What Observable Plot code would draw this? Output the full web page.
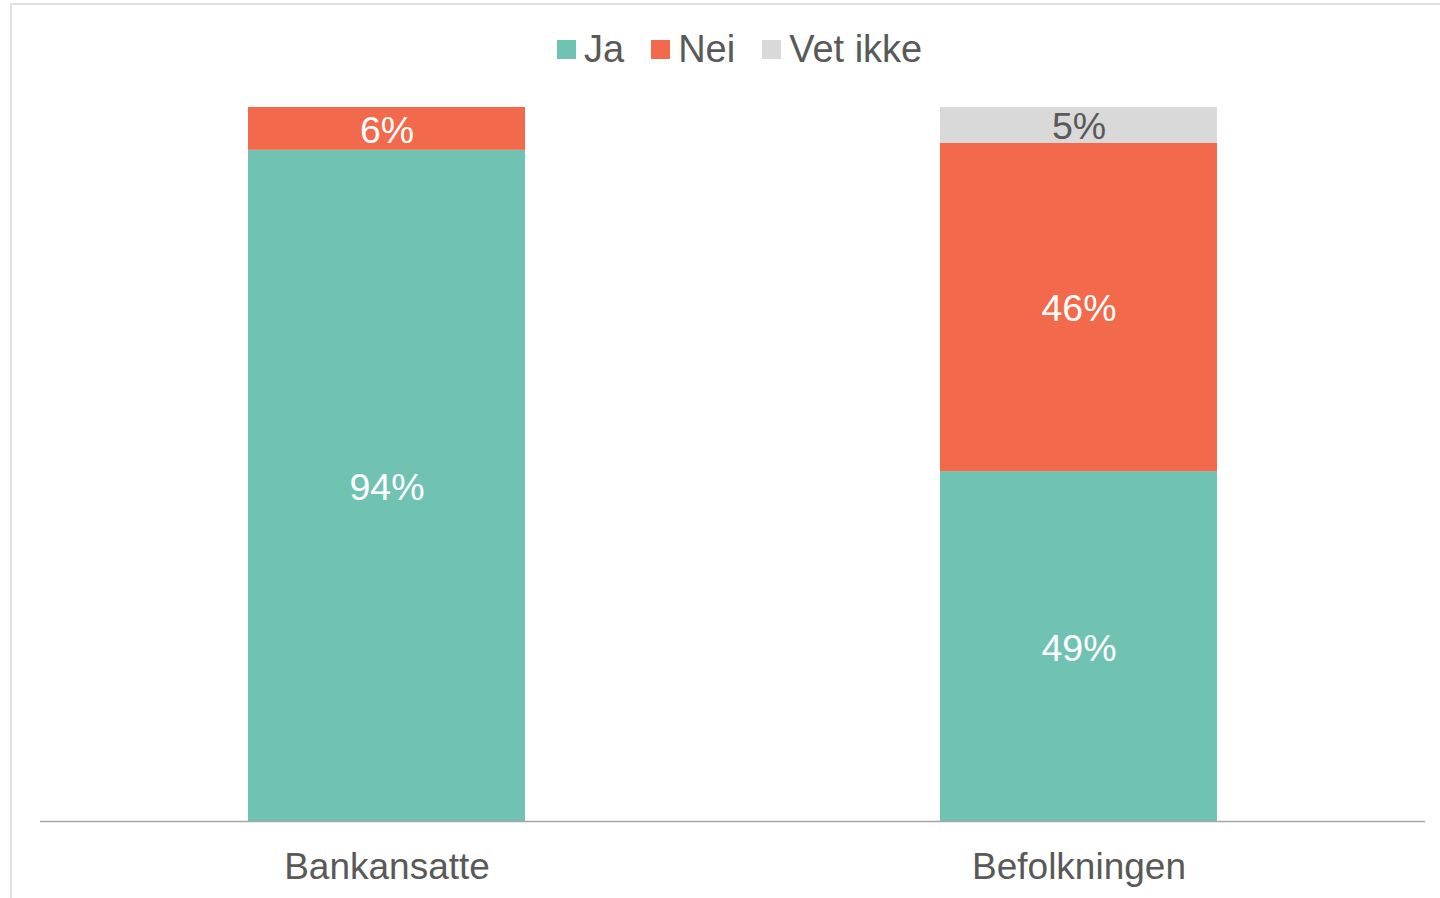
<!DOCTYPE html>
<html>
<head>
<meta charset="utf-8">
<script src="https://cdn.jsdelivr.net/npm/d3@7"></script>
<script src="https://cdn.jsdelivr.net/npm/@observablehq/plot@0.6"></script>
<style>
  html, body { margin: 0; padding: 0; background: #fff; overflow: hidden; width: 1440px; height: 898px; }
  body { position: relative; font-family: "Liberation Sans", Arial, sans-serif; }
  #frame { position: absolute; left: 10px; top: 3px; width: 1460px; height: 920px; border: 2px solid #e0e0e0; box-sizing: border-box; pointer-events: none; }
  #legend { position: absolute; left: 557px; top: 27px; display: flex; align-items: center; height: 44px; font-size: 38px; color: #595959; }
  .item { display: flex; align-items: center; margin-right: 27px; }
  .sw { width: 19px; height: 19px; margin-right: 8px; }
  #chart { position: absolute; left: 0; top: 90px; }
</style>
</head>
<body>
<div id="frame"></div>
<div id="legend"></div>
<div id="chart"></div>
<script>
const groups = ["Bankansatte", "Befolkningen"];
const series = ["Ja", "Nei", "Vet ikke"];
const ja = [94, 49];
const nei = [6, 46];
const vetIkke = [0, 5];
const colors = ["#70c3b3", "#f2694b", "#d9d9d9"];
const labelColors = ["#ffffff", "#ffffff", "#595959"];

const seriesValues = [ja, nei, vetIkke];
const data = [];
groups.forEach((g, gi) => {
  series.forEach((s, si) => {
    data.push({group: g, series: s, value: seriesValues[si][gi]});
  });
});

// Legend
const legend = document.getElementById("legend");
series.forEach((s, i) => {
  const it = document.createElement("div");
  it.className = "item";
  const sw = document.createElement("div");
  sw.className = "sw";
  sw.style.background = colors[i];
  const t = document.createElement("span");
  t.textContent = s;
  it.appendChild(sw);
  it.appendChild(t);
  legend.appendChild(it);
});

const chart = Plot.plot({
  width: 1440,
  height: 808,
  marginLeft: 40,
  marginRight: 15,
  marginTop: 17,
  marginBottom: 77,
  style: {fontFamily: "'Liberation Sans', Arial, sans-serif", background: "transparent"},
  x: {domain: groups, paddingInner: 0.6, paddingOuter: 0.3, label: null},
  y: {domain: [0, 100], axis: null},
  color: {domain: series, range: colors},
  marks: [
    Plot.barY(data, Plot.stackY({x: "group", y: "value", fill: "series", order: null})),
    Plot.ruleY([0], {stroke: "#a6a6a6", strokeWidth: 1.5}),
    Plot.text(data.filter(d => d.value > 0), Plot.stackY({
      x: "group", y: "value", order: null,
      text: d => d.value + "%",
      fill: d => labelColors[series.indexOf(d.series)],
      fontSize: 37.5,
      dy: 2
    })),
    Plot.axisX({tickSize: 0, tickPadding: 31, fontSize: 37, color: "#595959", label: null})
  ]
});
document.getElementById("chart").appendChild(chart);
</script>
</body>
</html>
